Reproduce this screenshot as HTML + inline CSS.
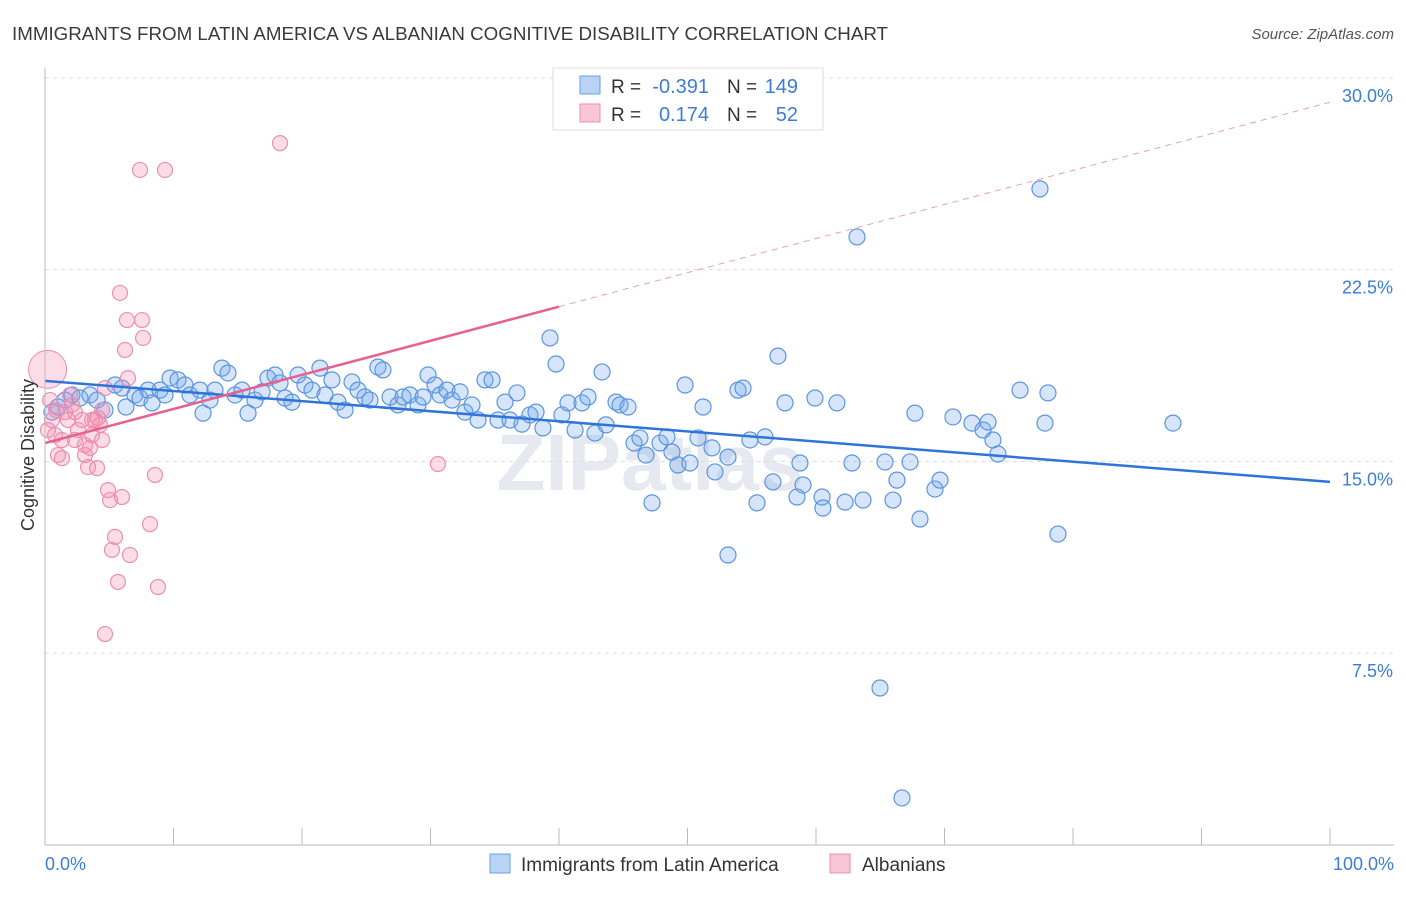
<!DOCTYPE html>
<html><head><meta charset="utf-8"><style>
body{margin:0;background:#fff;font-family:"Liberation Sans",sans-serif;}
svg text{font-family:"Liberation Sans",sans-serif;}
</style></head><body>
<svg width="1406" height="892">
<text x="12" y="40" font-size="18" fill="#3a3a3a" textLength="876" lengthAdjust="spacingAndGlyphs">IMMIGRANTS FROM LATIN AMERICA VS ALBANIAN COGNITIVE DISABILITY CORRELATION CHART</text>
<text x="1394" y="39" font-size="15" fill="#555" text-anchor="end" font-style="italic">Source: ZipAtlas.com</text>
<text x="650" y="490" font-size="80" fill="#e6e9ef" text-anchor="middle" font-weight="bold">ZIPatlas</text>
<g id="grid"></g><g id="pts"></g><g id="lines"></g>
<line x1="45" y1="68" x2="45" y2="845" stroke="#bbb"/>
<line x1="45" y1="845" x2="1394" y2="845" stroke="#bbb"/>
<text x="34" y="455" font-size="18" fill="#333" text-anchor="middle" transform="rotate(-90 34 455)">Cognitive Disability</text>
<text x="45" y="870" font-size="18" fill="#3b7dd8">0.0%</text>
<text x="1394" y="870" font-size="18" fill="#3b7dd8" text-anchor="end">100.0%</text>
<g>
<rect x="553" y="68" width="270" height="62" fill="#fff" stroke="#ddd"/>
<rect x="580" y="76" width="20" height="18" fill="#b9d3f5" stroke="#6d9de0"/>
<rect x="580" y="104" width="20" height="18" fill="#f9c6d6" stroke="#ec8fae"/>
<text x="611" y="93" font-size="19" fill="#333">R =</text>
<text x="709" y="93" font-size="20" fill="#3b7dd8" text-anchor="end">-0.391</text>
<text x="727" y="93" font-size="19" fill="#333">N =</text>
<text x="798" y="93" font-size="20" fill="#3b7dd8" text-anchor="end">149</text>
<text x="611" y="121" font-size="19" fill="#333">R =</text>
<text x="709" y="121" font-size="20" fill="#3b7dd8" text-anchor="end">0.174</text>
<text x="727" y="121" font-size="19" fill="#333">N =</text>
<text x="798" y="121" font-size="20" fill="#3b7dd8" text-anchor="end">52</text>
</g>
<g>
<rect x="490" y="854" width="20" height="19" fill="#b9d3f5" stroke="#6d9de0"/>
<text x="521" y="871" font-size="19" fill="#333">Immigrants from Latin America</text>
<rect x="830" y="854" width="20" height="19" fill="#f9c6d6" stroke="#ec8fae"/>
<text x="862" y="871" font-size="19" fill="#333">Albanians</text>
</g>
</svg>
<script>
const yTicks=[7.5,15,22.5,30];
const yTickLabels=["7.5%","15.0%","22.5%","30.0%"];
const bluePx=[[52,412],[58,407],[65,400],[72,395],[80,398],[90,395],[97,400],[105,410],[115,385],[122,388],[126,407],[135,395],[140,398],[148,390],[152,403],[160,390],[165,395],[170,378],[178,380],[185,385],[190,395],[200,390],[203,413],[210,400],[215,390],[222,368],[228,373],[235,395],[242,390],[248,413],[255,400],[262,392],[268,378],[275,375],[280,383],[285,398],[292,402],[298,375],[305,385],[312,390],[320,368],[325,395],[332,380],[338,402],[345,410],[352,382],[358,390],[365,397],[370,400],[378,367],[383,370],[390,397],[398,405],[403,397],[410,395],[418,405],[423,397],[428,375],[435,385],[440,395],[447,390],[452,400],[460,392],[465,412],[472,405],[478,420],[485,380],[492,380],[498,420],[505,402],[510,420],[517,393],[522,424],[530,415],[536,412],[543,428],[550,338],[556,364],[562,415],[568,403],[575,430],[582,403],[588,397],[595,433],[602,372],[606,425],[616,402],[620,405],[628,407],[634,443],[640,438],[646,455],[652,503],[660,443],[667,437],[672,452],[678,465],[685,385],[690,463],[698,438],[703,407],[712,448],[715,472],[728,555],[728,457],[738,390],[743,388],[750,440],[757,503],[765,437],[773,482],[778,356],[785,403],[797,497],[800,463],[803,485],[815,398],[822,497],[823,508],[837,403],[845,502],[852,463],[857,237],[863,500],[880,688],[885,462],[893,500],[897,480],[902,798],[910,462],[915,413],[920,519],[935,489],[940,480],[953,417],[972,423],[983,430],[988,422],[993,440],[998,454],[1020,390],[1040,189],[1045,423],[1048,393],[1058,534],[1173,423]];
const pinkPx=[[50,400],[52,420],[55,435],[58,455],[62,458],[65,412],[68,420],[72,405],[75,412],[78,430],[82,420],[85,445],[88,467],[90,448],[92,435],[95,420],[97,468],[100,425],[102,410],[105,388],[108,490],[110,500],[112,550],[115,537],[118,582],[120,293],[122,497],[125,350],[127,320],[128,378],[130,555],[140,170],[142,320],[143,338],[150,524],[155,475],[158,587],[165,170],[105,634],[280,143],[438,464],[56,410],[62,440],[75,440],[85,455],[92,420],[98,418],[102,440],[48,430],[70,395]];
const blueX=bluePx.map(p=>+((p[0]-45)/12.85).toFixed(2));
const blueY=bluePx.map(p=>+((845-p[1])/25.57).toFixed(2));
const pinkX=pinkPx.map(p=>+((p[0]-45)/12.85).toFixed(2));
const pinkY=pinkPx.map(p=>+((845-p[1])/25.57).toFixed(2));
const blueTrend=[18.15,14.2];
const pinkTrend=[15.72,29.05];
const sx=v=>45+v*12.85, sy=v=>845-v*25.57;
const NS="http://www.w3.org/2000/svg";
function mk(t,a,parent){const e=document.createElementNS(NS,t);for(const k in a)e.setAttribute(k,a[k]);parent.appendChild(e);return e;}
const grid=document.getElementById('grid');
yTicks.forEach((v,i)=>{
 const l=mk('line',{x1:45,x2:1394,y1:sy(v),y2:sy(v),stroke:'#ddd','stroke-dasharray':'4,4'},grid);
 
 
 const t=mk('text',{x:1393,y:sy(v)+24,'font-size':18,fill:'#3b7dd8','text-anchor':'end'},grid);
 t.textContent=yTickLabels[i];
 
 
});
for(let i=1;i<=10;i++){
 const l=mk('line',{x1:sx(i*10),x2:sx(i*10),y1:828,y2:845,stroke:'#bbb'},grid);
 
 
}
const pts=document.getElementById('pts');
const big1=mk('circle',{cx:sx(0.2),cy:sy(18.6),r:19,fill:'rgba(244,143,177,0.3)',stroke:'#ec8fae','stroke-width':1},pts);


blueX.forEach((x,i)=>{
 const c=mk('circle',{cx:sx(x),cy:sy(blueY[i]),r:8,fill:'rgba(120,170,235,0.3)',stroke:'#5b95e0','stroke-width':1.2},pts);
 
 
});
pinkX.forEach((x,i)=>{
 const c=mk('circle',{cx:sx(x),cy:sy(pinkY[i]),r:7.5,fill:'rgba(244,143,177,0.3)',stroke:'#ec8fae','stroke-width':1.2},pts);
 
 
});
const lines=document.getElementById('lines');
const bl=mk('line',{x1:sx(0),y1:sy(blueTrend[0]),x2:sx(100),y2:sy(blueTrend[1]),stroke:'#2f74d8','stroke-width':2.5},lines);


const pAt=x=>pinkTrend[0]+(pinkTrend[1]-pinkTrend[0])*x/100;
const pl=mk('line',{x1:sx(0),y1:sy(pAt(0)),x2:sx(40),y2:sy(pAt(40)),stroke:'#e8608f','stroke-width':2.5},lines);


const pd=mk('line',{x1:sx(40),y1:sy(pAt(40)),x2:sx(100),y2:sy(pAt(100)),stroke:'#e8a0b8','stroke-width':1,'stroke-dasharray':'6,5'},lines);


</script>
</body></html>
